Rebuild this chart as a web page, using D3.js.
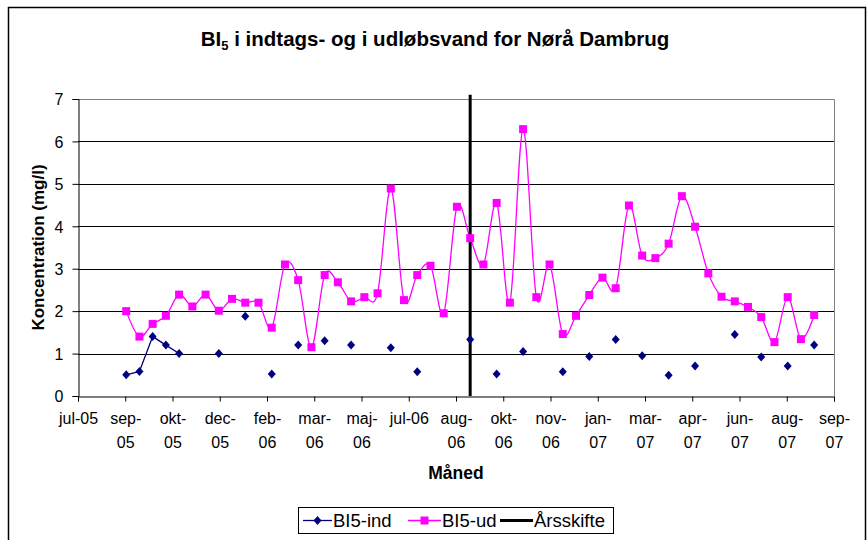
<!DOCTYPE html>
<html>
<head>
<meta charset="utf-8">
<script src="https://cdn.jsdelivr.net/npm/d3@7"></script>
<style>
  body { margin: 0; background: #fff; }
  svg text { font-family: "Liberation Sans", Arial, sans-serif; fill: #000; }
</style>
</head>
<body>
<svg id="chart" width="868" height="540"></svg>
<script>
// sample dates (every second week)
const dates = [
  '2005-09-06', '2005-09-20', '2005-10-04', '2005-10-18', '2005-11-01', '2005-11-15', '2005-11-29',
  '2005-12-13', '2005-12-27', '2006-01-10', '2006-01-24', '2006-02-07', '2006-02-21', '2006-03-07',
  '2006-03-21', '2006-04-04', '2006-04-18', '2006-05-02', '2006-05-16', '2006-05-30', '2006-06-13',
  '2006-06-27', '2006-07-11', '2006-07-25', '2006-08-08', '2006-08-22', '2006-09-05', '2006-09-19',
  '2006-10-03', '2006-10-17', '2006-10-31', '2006-11-14', '2006-11-28', '2006-12-12', '2006-12-26',
  '2007-01-09', '2007-01-23', '2007-02-06', '2007-02-20', '2007-03-06', '2007-03-20', '2007-04-03',
  '2007-04-17', '2007-05-01', '2007-05-15', '2007-05-29', '2007-06-12', '2007-06-26', '2007-07-10',
  '2007-07-24', '2007-08-07', '2007-08-21', '2007-09-04'
];
// BI5 udløb (mg/l)
const bi5Ud = [
  2.0, 1.4, 1.7, 1.89, 2.39, 2.11, 2.39,
  2.01, 2.29, 2.2, 2.2, 1.61, 3.1, 2.73,
  1.15, 2.85, 2.68, 2.23, 2.33, 2.42, 4.89,
  2.26, 2.85, 3.07, 1.95, 4.46, 3.72, 3.1,
  4.55, 2.2, 6.29, 2.33, 3.1, 1.46, 1.89,
  2.38, 2.79, 2.54, 4.49, 3.31, 3.25, 3.59,
  4.71, 3.99, 2.89, 2.34, 2.23, 2.1, 1.86,
  1.27, 2.33, 1.34, 1.91
];
// BI5 indtag (mg/l), null = ingen måling
const bi5Ind = [
  0.5, 0.58, 1.4, 1.2, 1.0, null, null,
  1.0, null, 1.88, null, 0.52, null, 1.2,
  null, 1.3, null, 1.2, null, null, 1.14,
  null, 0.57, null, null, null, 1.33, null,
  0.52, null, 1.05, null, null, 0.57, null,
  0.93, null, 1.33, null, 0.95, null, 0.49,
  null, 0.71, null, null, 1.45, null, 0.92,
  null, 0.71, null, 1.2
];
const yearChangeDate = '2006-09-05';
const yearChangeRange = [0, 7.1];

const axisStart = '2005-07-17';
const tickStepDays = 50;
const xTickLabels = [
  'jul-05', 'sep-\n05', 'okt-\n05', 'dec-\n05', 'feb-\n06', 'mar-\n06', 'maj-\n06', 'jul-06', 'aug-\n06',
  'okt-\n06', 'nov-\n06', 'jan-\n07', 'mar-\n07', 'apr-\n07', 'jun-\n07', 'aug-\n07', 'sep-\n07'
];
const yTicks = [0, 1, 2, 3, 4, 5, 6, 7];

main();

function main () {
  const parse = d3.utcParse('%Y-%m-%d');
  const rows = dates.map((d, i) => ({ date: parse(d), ud: bi5Ud[i], ind: bi5Ind[i] }));

  const svg = d3.select('#chart');
  const plotLeft = 78, plotRight = 834, plotTop = 99, plotBottom = 396;

  const start = parse(axisStart);
  const tickDates = xTickLabels.map((l, i) => d3.utcDay.offset(start, i * tickStepDays));
  const x = d3.scaleUtc()
    .domain([start, tickDates[tickDates.length - 1]])
    .range([plotLeft, plotRight]);
  const y = d3.scaleLinear().domain([0, 7]).range([plotBottom, plotTop]);

  // chart frame
  svg.append('rect')
    .attr('x', 8.5).attr('y', 7.5).attr('width', 857).attr('height', 545)
    .attr('fill', 'none').attr('stroke', '#000').attr('stroke-width', 1.5);

  // title
  const title = svg.append('text')
    .attr('x', 435).attr('y', 46)
    .attr('text-anchor', 'middle')
    .style('font-size', '20.5px').style('font-weight', 'bold');
  title.append('tspan').text('BI');
  title.append('tspan').text('5').style('font-size', '13px').attr('dy', 4);
  title.append('tspan').text(' i indtags- og i udløbsvand for Nørå Dambrug').attr('dy', -4);

  // gridlines
  svg.append('g')
    .selectAll('line')
    .data(yTicks.filter(t => t > 0 && t < 7))
    .join('line')
    .attr('x1', plotLeft).attr('x2', plotRight)
    .attr('y1', d => Math.round(y(d)) + 0.5).attr('y2', d => Math.round(y(d)) + 0.5)
    .attr('stroke', '#000');

  // plot area border (top / right)
  svg.append('path')
    .attr('d', `M${plotLeft},${Math.round(y(7)) + 0.5}H${plotRight + 0.5}V${plotBottom}`)
    .attr('fill', 'none').attr('stroke', '#808080');

  // y axis
  const yAxis = svg.append('g')
    .attr('transform', `translate(${plotLeft + 0.5},0)`)
    .call(d3.axisLeft(y).tickValues(yTicks).tickSize(6).tickPadding(9).tickFormat(d3.format('d')));
  yAxis.selectAll('text').style('font-size', '16px').attr('dy', '0.36em');

  // x axis
  const xAxis = svg.append('g')
    .attr('transform', `translate(0,${plotBottom + 0.5})`)
    .call(d3.axisBottom(x).tickValues(tickDates).tickSize(5).tickFormat(''));
  xAxis.selectAll('.tick').each(function (d, i) {
    const parts = xTickLabels[i].split('\n');
    const t = d3.select(this).append('text')
      .attr('y', 27).attr('text-anchor', 'middle')
      .style('font-size', '16px').attr('fill', '#000');
    parts.forEach((p, k) => {
      t.append('tspan').attr('x', 0).attr('dy', k === 0 ? 0 : 24).text(p);
    });
  });
  svg.selectAll('.domain').attr('stroke', '#000');
  svg.selectAll('.tick line').attr('stroke', '#000');

  // axis titles
  svg.append('text')
    .attr('transform', `translate(44,${(plotTop + plotBottom) / 2}) rotate(-90)`)
    .attr('text-anchor', 'middle')
    .style('font-size', '17px').style('font-weight', 'bold')
    .text('Koncentration (mg/l)');
  svg.append('text')
    .attr('x', (plotLeft + plotRight) / 2).attr('y', 479)
    .attr('text-anchor', 'middle')
    .style('font-size', '17.5px').style('font-weight', 'bold')
    .text('Måned');

  const magenta = '#FF00FF';
  const navy = '#000080';

  // BI5-ud, smoothed line
  svg.append('path')
    .datum(rows)
    .attr('fill', 'none').attr('stroke', magenta).attr('stroke-width', 1.3)
    .attr('d', d3.line().x(d => x(d.date)).y(d => y(d.ud)).curve(d3.curveCardinal.tension(0)));

  // BI5-ind, broken where no sample
  svg.append('path')
    .datum(rows)
    .attr('fill', 'none').attr('stroke', navy).attr('stroke-width', 1.3)
    .attr('d', d3.line().defined(d => d.ind != null).x(d => x(d.date)).y(d => y(d.ind)));

  // year change line
  const yc = parse(yearChangeDate);
  svg.append('line')
    .attr('x1', x(yc)).attr('x2', x(yc))
    .attr('y1', y(yearChangeRange[1])).attr('y2', y(yearChangeRange[0]))
    .attr('stroke', '#000').attr('stroke-width', 3);

  // markers
  const square = d3.symbol().type(d3.symbolSquare).size(64);
  const diamond = 'M0,-4.5L4,0L0,4.5L-4,0Z';
  svg.append('g')
    .selectAll('path')
    .data(rows)
    .join('path')
    .attr('transform', d => `translate(${x(d.date)},${y(d.ud)})`)
    .attr('d', square)
    .attr('fill', magenta);
  svg.append('g')
    .selectAll('path')
    .data(rows.filter(d => d.ind != null))
    .join('path')
    .attr('transform', d => `translate(${x(d.date)},${y(d.ind)})`)
    .attr('d', diamond)
    .attr('fill', navy);

  // legend
  const lg = svg.append('g').attr('transform', 'translate(298,507)');
  lg.append('rect')
    .attr('x', 0.5).attr('y', 0.5).attr('width', 315).attr('height', 26)
    .attr('fill', '#fff').attr('stroke', '#000');
  const legendItems = [
    { name: 'BI5-ind', color: navy, marker: diamond, x0: 5, len: 29 },
    { name: 'BI5-ud', color: magenta, marker: square, x0: 110, len: 33 },
    { name: 'Årsskifte', color: '#000', marker: null, x0: 202, len: 33 }
  ];
  legendItems.forEach(it => {
    const g = lg.append('g').attr('transform', `translate(${it.x0},13.5)`);
    g.append('line').attr('x1', 0).attr('x2', it.len).attr('stroke', it.color)
      .attr('stroke-width', it.marker ? 1.3 : 3);
    if (it.marker) {
      g.append('path').attr('transform', `translate(${it.len / 2},0)`).attr('d', it.marker).attr('fill', it.color);
    }
    g.append('text').attr('x', it.len + 1).attr('y', 6.5).style('font-size', '18.5px').text(it.name);
  });
}
</script>
</body>
</html>
